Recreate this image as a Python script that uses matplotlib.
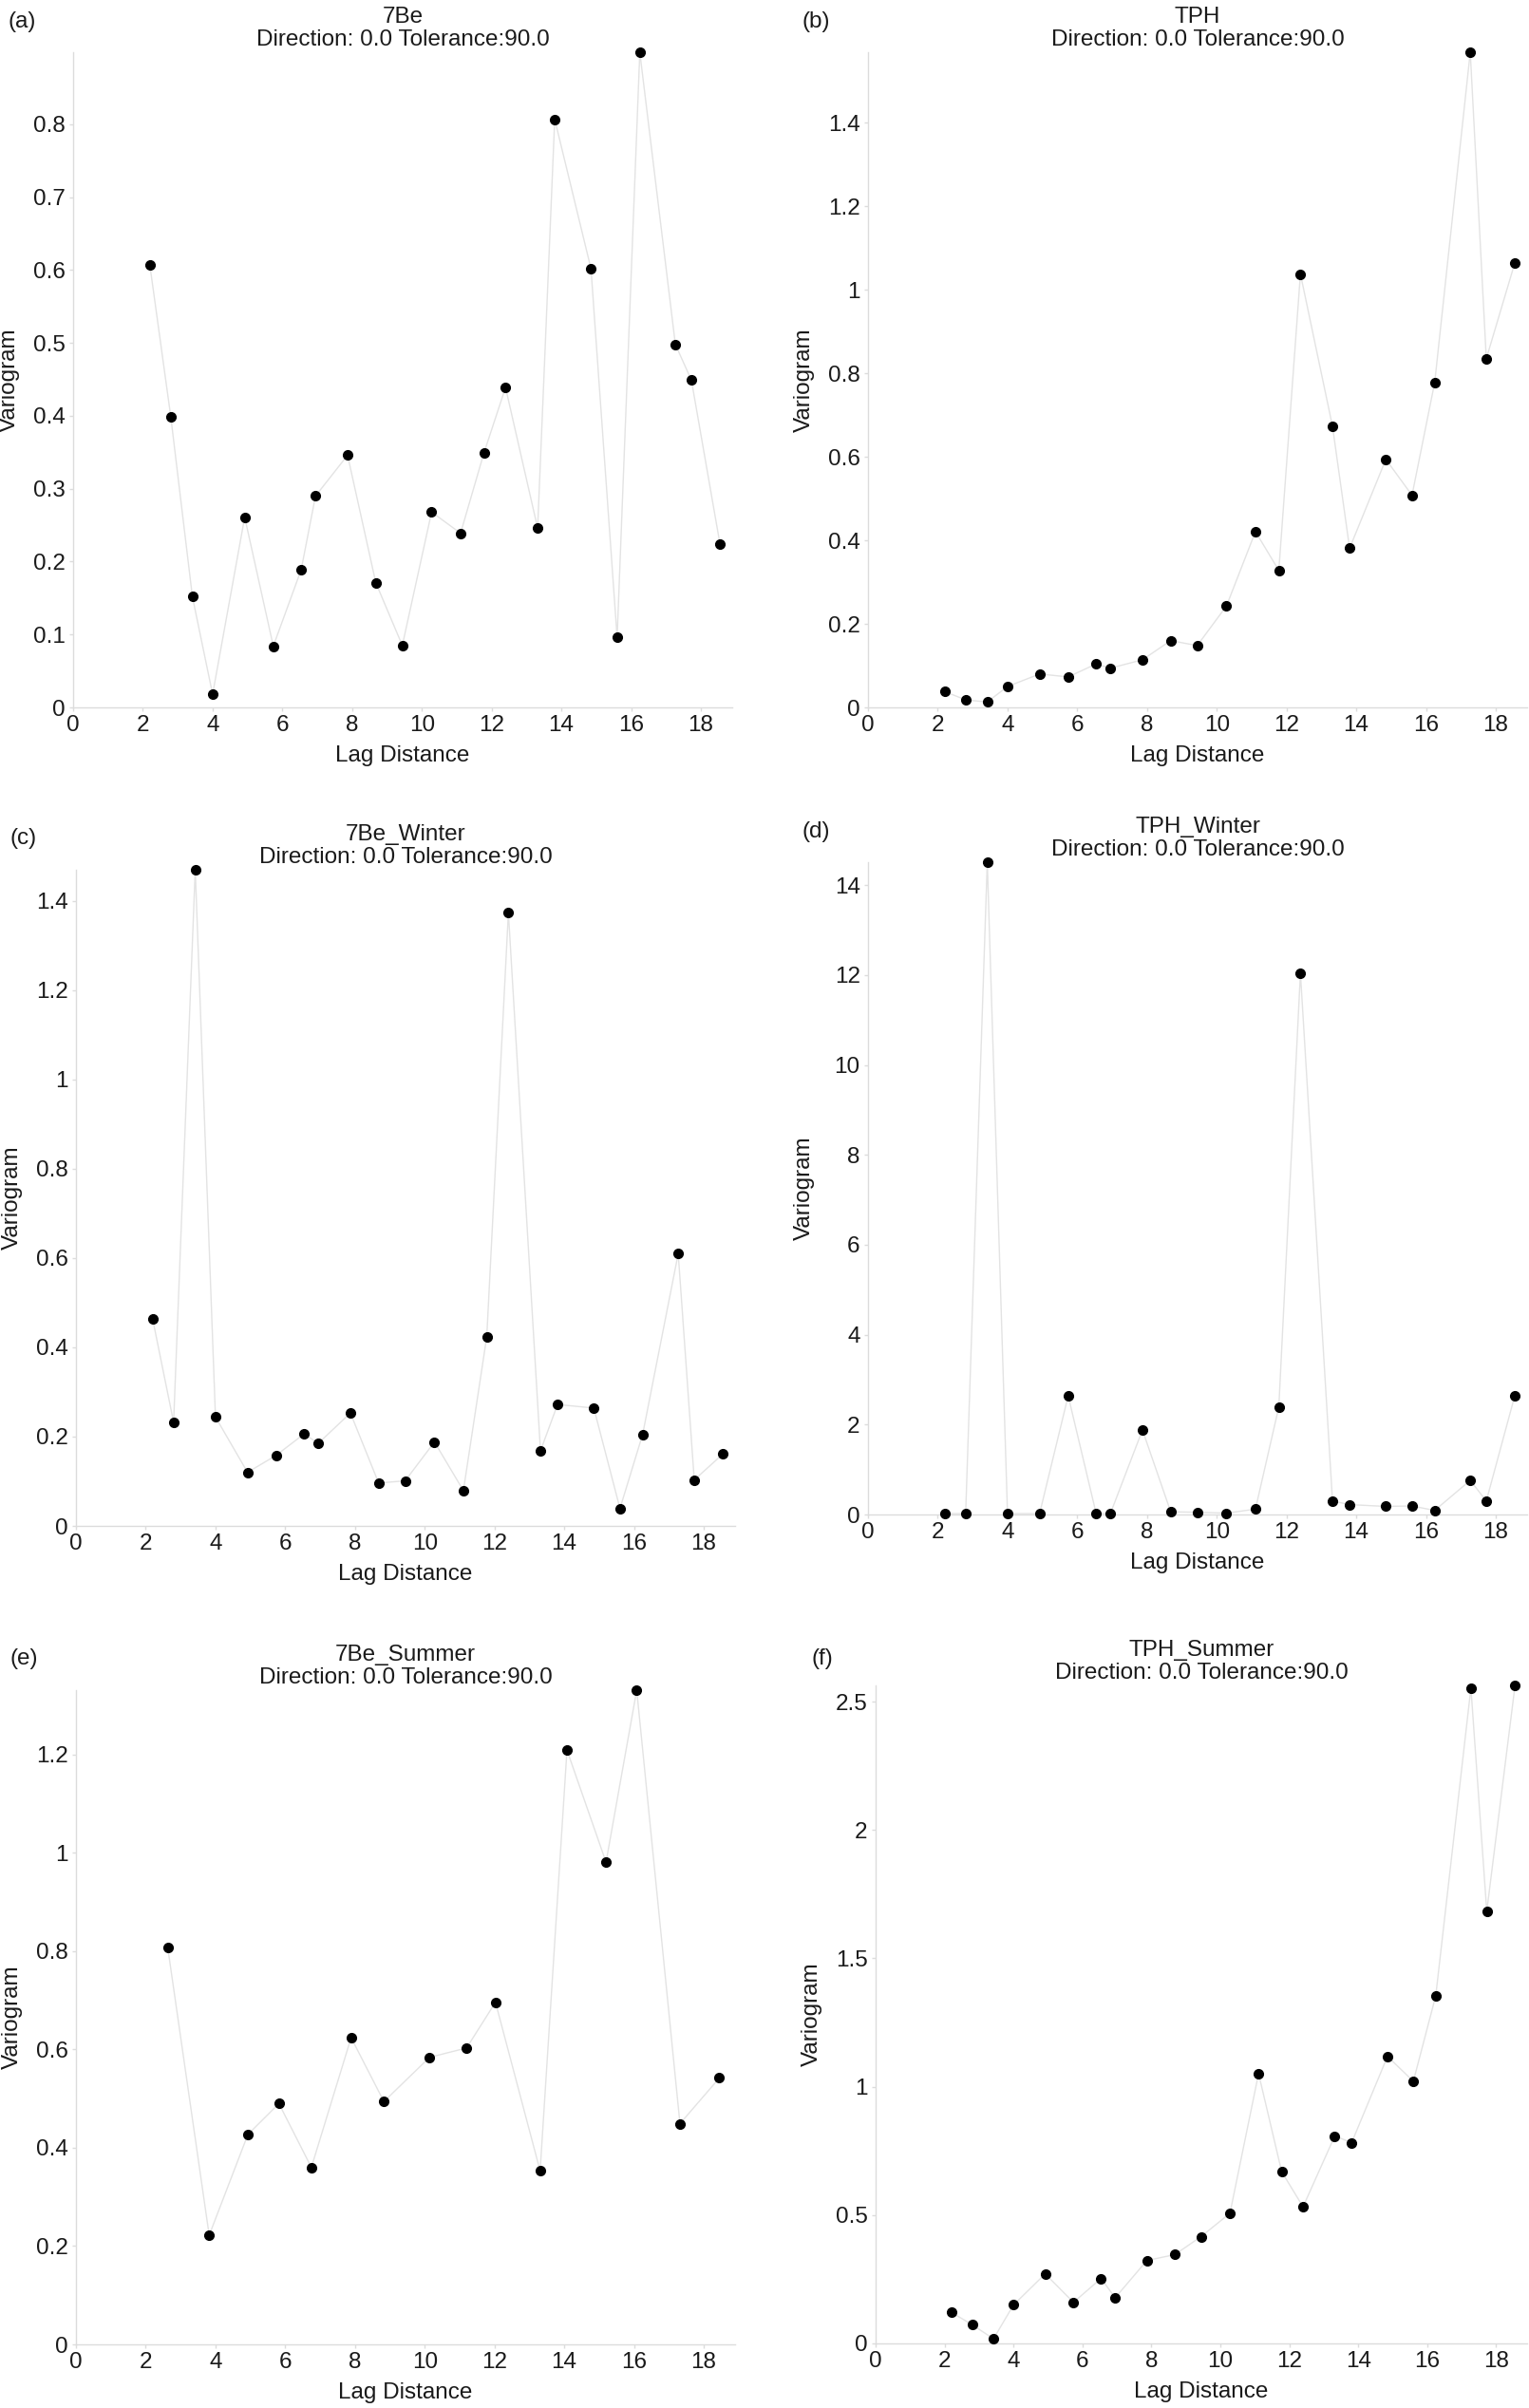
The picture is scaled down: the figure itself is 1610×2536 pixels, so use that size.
import matplotlib
matplotlib.use("Agg")
import matplotlib.pyplot as plt
from matplotlib.ticker import MultipleLocator, FuncFormatter

plt.rcParams['font.family'] = ['Liberation Sans', 'DejaVu Sans']

# lag distances shared by panels a-d and f
lag = [2.2, 2.8, 3.42, 4.0, 4.92, 5.74, 6.54, 6.95, 7.87, 8.68, 9.44, 10.28,
       11.11, 11.78, 12.4, 13.32, 13.81, 14.85, 15.6, 16.25, 17.27, 17.73, 18.55]
lag_summer_be = [2.63, 3.82, 4.93, 5.82, 6.75, 7.89, 8.83, 10.14, 11.2, 12.03,
                 13.31, 14.08, 15.2, 16.08, 17.32, 18.45]

be7 = [0.607, 0.399, 0.152, 0.018, 0.261, 0.084, 0.189, 0.290, 0.346, 0.171,
       0.085, 0.268, 0.239, 0.349, 0.439, 0.246, 0.807, 0.602, 0.096, 0.899,
       0.498, 0.449, 0.224]
tph = [0.038, 0.018, 0.013, 0.050, 0.080, 0.073, 0.104, 0.094, 0.114, 0.160,
       0.148, 0.243, 0.421, 0.328, 1.038, 0.673, 0.381, 0.594, 0.508, 0.778,
       1.569, 0.835, 1.065]
be7_winter = [0.463, 0.232, 1.470, 0.244, 0.120, 0.158, 0.206, 0.185, 0.253,
              0.096, 0.101, 0.188, 0.079, 0.424, 1.374, 0.168, 0.272, 0.264,
              0.039, 0.205, 0.610, 0.103, 0.161]
tph_winter = [0.02, 0.02, 14.51, 0.02, 0.02, 2.64, 0.03, 0.02, 1.88, 0.06,
              0.05, 0.03, 0.12, 2.39, 12.04, 0.30, 0.22, 0.18, 0.19, 0.09,
              0.76, 0.30, 2.65]
be7_summer = [0.808, 0.222, 0.427, 0.490, 0.360, 0.624, 0.494, 0.584, 0.603,
              0.696, 0.353, 1.209, 0.981, 1.331, 0.449, 0.542]
tph_summer = [0.121, 0.073, 0.018, 0.150, 0.271, 0.160, 0.253, 0.178, 0.323,
              0.346, 0.416, 0.507, 1.051, 0.669, 0.532, 0.808, 0.782, 1.118,
              1.021, 1.354, 2.553, 1.683, 2.563]

names = ['7Be', 'TPH', '7Be_Winter', 'TPH_Winter', '7Be_Summer', 'TPH_Summer']
letters = ['(a)', '(b)', '(c)', '(d)', '(e)', '(f)']
xs = [lag, lag, lag, lag, lag_summer_be, lag]
ys = [be7, tph, be7_winter, tph_winter, be7_summer, tph_summer]
ysteps = [0.1, 0.2, 0.2, 2, 0.2, 0.5]

W, H = 1610, 2536
# axes boxes in pixels: left, top, right, bottom
boxes = [(77, 55, 771, 745), (914, 55, 1608, 745),
         (80, 916, 774, 1607), (914, 908, 1608, 1595),
         (80, 1780, 774, 2469), (922, 1775, 1608, 2468)]
label_pos = [(23, 23), (859, 23), (25, 883), (859, 876), (25, 1747), (866, 1747)]

fig = plt.figure(figsize=(W / 100, H / 100), dpi=100)

spine_c = '#dcdcdc'
text_c = '#1a1a1a'
fs = 17.5

for i in range(6):
    l, t, r, b = boxes[i]
    ax = fig.add_axes([l / W, 1 - b / H, (r - l) / W, (b - t) / H])
    ax.plot(xs[i], ys[i], color='#e3e3e3', linewidth=1.0, zorder=1)
    ax.plot(xs[i], ys[i], 'o', color='black', markersize=7, linestyle='none',
            clip_on=False, zorder=3)
    ax.set_xlim(0, 18.9)
    ax.set_ylim(0, max(ys[i]))
    ax.xaxis.set_major_locator(MultipleLocator(2))
    ax.yaxis.set_major_locator(MultipleLocator(ysteps[i]))
    ax.yaxis.set_major_formatter(FuncFormatter(lambda v, p: '{:g}'.format(round(v, 6))))
    for s in ['top', 'right']:
        ax.spines[s].set_visible(False)
    for s in ['left', 'bottom']:
        ax.spines[s].set_color(spine_c)
        ax.spines[s].set_linewidth(1.0)
    ax.tick_params(colors=spine_c, labelcolor=text_c, labelsize=fs, length=3,
                   width=1.0, pad=3)
    ax.set_xlabel('Lag Distance', fontsize=fs, color=text_c)
    ax.set_ylabel('Variogram', fontsize=fs, color=text_c)
    pw = r - l
    ph = b - t
    ax.yaxis.set_label_coords(-56 / pw, 0.5)
    ax.xaxis.set_label_coords(0.5, -40 / ph)
    ax.set_title(names[i] + '\nDirection: 0.0 Tolerance:90.0', fontsize=fs,
                 color=text_c, pad=5, linespacing=1.15)
    fig.text(label_pos[i][0] / W, 1 - label_pos[i][1] / H, letters[i],
             fontsize=fs, color=text_c, ha='center', va='center')

fig.savefig('out.png', dpi=100, facecolor='white')
